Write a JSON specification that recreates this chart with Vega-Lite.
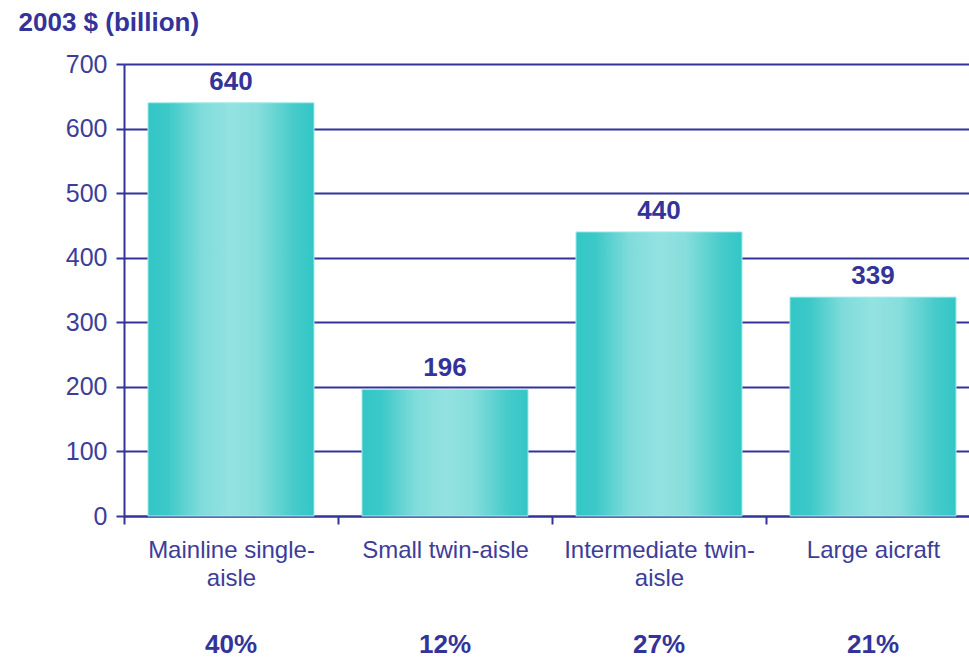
{
  "$schema": "https://vega.github.io/schema/vega-lite/v6.json",
  "width": 856,
  "height": 452,
  "autosize": {"type": "none"},
  "padding": {"left": 124, "top": 64, "right": 0, "bottom": 142},
  "background": "#ffffff",
  "data": {"values": [
    {"category": "Mainline single-|aisle", "value": 640, "share": "40%"},
    {"category": "Small twin-aisle", "value": 196, "share": "12%"},
    {"category": "Intermediate twin-|aisle", "value": 440, "share": "27%"},
    {"category": "Large aicraft", "value": 339, "share": "21%"}
  ]},
  "config": {
    "font": "Liberation Sans",
    "view": {"stroke": null},
    "axis": {"domainColor": "#333399", "tickColor": "#333399", "labelColor": "#3d3d99", "gridColor": "#333399"}
  },
  "encoding": {
    "x": {
      "field": "category", "type": "nominal", "sort": null,
      "scale": {"paddingInner": 0.224, "paddingOuter": 0.112},
      "axis": {
        "title": null, "labelAngle": 0, "labelFontSize": 24, "labelLineHeight": 28, "labelLimit": 0,
        "labelExpr": "split(datum.value, '|')", "bandPosition": 0, "tickOffset": -24, "labelOffset": 24,
        "tickSize": 8, "tickWidth": 2, "domainWidth": 2, "labelPadding": 14, "labelBaseline": "top"
      }
    }
  },
  "layer": [
    {
      "mark": {
        "type": "bar",
        "stroke": "#a8ecea", "strokeWidth": 1,
        "color": {
          "gradient": "linear", "x1": 0, "y1": 0, "x2": 1, "y2": 0,
          "stops": [
            {"offset": 0, "color": "#33c6c6"},
            {"offset": 0.12, "color": "#3cc9c8"},
            {"offset": 0.32, "color": "#7fdcda"},
            {"offset": 0.5, "color": "#93e2e1"},
            {"offset": 0.66, "color": "#87dedc"},
            {"offset": 0.88, "color": "#45cbca"},
            {"offset": 1, "color": "#33c6c6"}
          ]
        }
      },
      "encoding": {
        "y": {
          "field": "value", "type": "quantitative",
          "scale": {"domain": [0, 700], "nice": false},
          "axis": {
            "values": [0, 100, 200, 300, 400, 500, 600, 700],
            "grid": true, "gridWidth": 2, "domainWidth": 2, "tickWidth": 2, "tickSize": 8,
            "tickOffset": 0, "labelFontSize": 25, "labelPadding": 9,
            "title": "2003 $ (billion)", "titleAngle": 0, "titleX": -106, "titleY": -42,
            "titleAlign": "left", "titleBaseline": "middle", "titleFontSize": 26,
            "titleFontWeight": "bold", "titleColor": "#333399"
          }
        }
      }
    },
    {
      "mark": {"type": "text", "fontSize": 26, "fontWeight": "bold", "color": "#333399", "dy": -21, "baseline": "middle"},
      "encoding": {
        "y": {"field": "value", "type": "quantitative"},
        "text": {"field": "value", "type": "quantitative"}
      }
    },
    {
      "mark": {"type": "text", "fontSize": 26, "fontWeight": "bold", "color": "#333399", "baseline": "middle", "clip": false},
      "encoding": {
        "y": {"datum": -200, "type": "quantitative"},
        "text": {"field": "share", "type": "nominal"}
      }
    }
  ]
}
